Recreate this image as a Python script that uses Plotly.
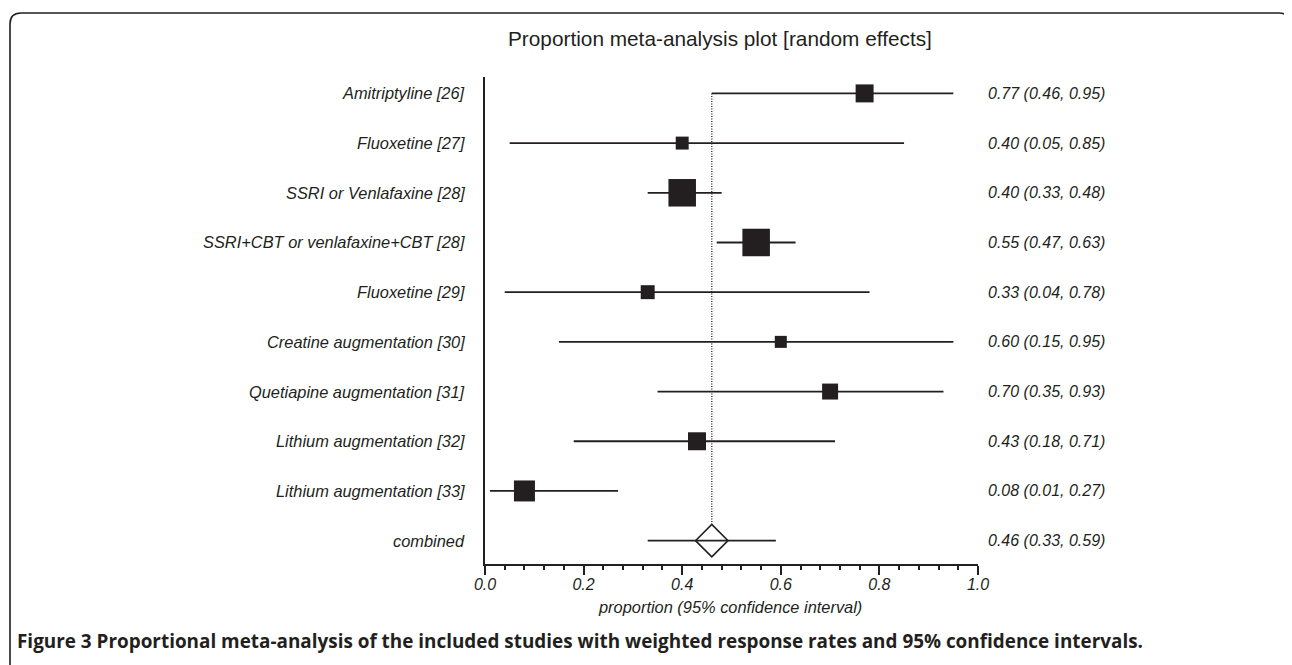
import plotly.graph_objects as go
import numpy as np

# ---- data ----
study_labels = [
    "Amitriptyline [26]",
    "Fluoxetine [27]",
    "SSRI or Venlafaxine [28]",
    "SSRI+CBT or venlafaxine+CBT [28]",
    "Fluoxetine [29]",
    "Creatine augmentation [30]",
    "Quetiapine augmentation [31]",
    "Lithium augmentation [32]",
    "Lithium augmentation [33]",
]
estimate = [0.77, 0.40, 0.40, 0.55, 0.33, 0.60, 0.70, 0.43, 0.08]
ci_low = [0.46, 0.05, 0.33, 0.47, 0.04, 0.15, 0.35, 0.18, 0.01]
ci_high = [0.95, 0.85, 0.48, 0.63, 0.78, 0.95, 0.93, 0.71, 0.27]
weight_pct = [9.6, 5.0, 22.5, 22.5, 5.8, 4.3, 7.6, 9.6, 13.1]

combined_label = "combined"
combined_est = 0.46
combined_low = 0.33
combined_high = 0.59

x_tick_vals = [0.0, 0.2, 0.4, 0.6, 0.8, 1.0]
x_tick_text = ["0.0", "0.2", "0.4", "0.6", "0.8", "1.0"]

title_text = "Proportion meta-analysis plot [random effects]"
x_title_text = "proportion (95% confidence interval)"
caption_bold = "Figure 3"
caption_rest = ("Proportional meta-analysis of the included studies with weighted "
                "response rates and 95% confidence intervals.")

# ---- layout geometry (pixels in the final page) ----
OFF = 8                      # page body margin
W, H = 1292 - OFF, 665 - OFF
L, R, T, B = 485 - OFF, 978 - OFF, 77 - OFF, 564 - OFF
INK = "#231f20"
FONT = "Liberation Sans, Arial, sans-serif"

n = len(study_labels)
y_rows = [n - i for i in range(n)]  # top row = n, combined = 0
y_comb = 0

def xp(px):
    return (px - OFF - L) / (R - L)

def yp(py):
    return (B - (py - OFF)) / (B - T)

fig = go.Figure()

# CI lines
ci_x, ci_y = [], []
for lo, hi, y in zip(ci_low, ci_high, y_rows):
    ci_x += [lo, hi, None]
    ci_y += [y, y, None]
ci_x += [combined_low, combined_high, None]
ci_y += [y_comb, y_comb, None]
fig.add_trace(go.Scatter(x=ci_x, y=ci_y, mode="lines",
                         line=dict(color=INK, width=1.8),
                         hoverinfo="skip", showlegend=False))

# dotted line at combined estimate
diamond_half_h = 0.34
fig.add_trace(go.Scatter(x=[combined_est, combined_est],
                         y=[y_rows[0], y_comb + diamond_half_h],
                         mode="lines",
                         line=dict(color=INK, width=1.3, dash="1.2px,1.3px"),
                         hoverinfo="skip", showlegend=False))

# weighted squares
sizes = [5.8 * np.sqrt(w) for w in weight_pct]
fig.add_trace(go.Scatter(x=estimate, y=y_rows, mode="markers",
                         marker=dict(symbol="square", size=sizes, color=INK,
                                     opacity=1, line=dict(width=0)),
                         showlegend=False))

# combined diamond
fig.add_trace(go.Scatter(x=[combined_est], y=[y_comb], mode="markers",
                         marker=dict(symbol="diamond-open", size=25, color=INK,
                                     opacity=1, line=dict(width=1.6, color=INK)),
                         showlegend=False))

annotations = []
all_labels = study_labels + [combined_label]
all_y = y_rows + [y_comb]
all_est = estimate + [combined_est]
all_lo = ci_low + [combined_low]
all_hi = ci_high + [combined_high]
for lab, y, e, lo, hi in zip(all_labels, all_y, all_est, all_lo, all_hi):
    annotations.append(dict(x=0, xref="paper", y=y, yref="y", text=lab,
                            xanchor="right", yanchor="middle", xshift=-18,
                            showarrow=False,
                            font=dict(family=FONT, size=16.4, color=INK, style="italic")))
    annotations.append(dict(x=1, xref="paper", y=y, yref="y",
                            text=f"{e:.2f} ({lo:.2f}, {hi:.2f})",
                            xanchor="left", yanchor="middle", xshift=8,
                            showarrow=False,
                            font=dict(family=FONT, size=16, color=INK, style="italic")))

annotations.append(dict(x=xp(720), xref="paper", y=yp(38), yref="paper",
                        text=title_text, xanchor="center", yanchor="middle",
                        showarrow=False, font=dict(family=FONT, size=20.8, color=INK)))
annotations.append(dict(x=xp(730), xref="paper", y=yp(607), yref="paper",
                        text=x_title_text, xanchor="center", yanchor="middle",
                        showarrow=False,
                        font=dict(family=FONT, size=16.4, color=INK, style="italic")))
annotations.append(dict(x=xp(15), xref="paper", y=yp(641), yref="paper",
                        text=f"<b>{caption_bold} {caption_rest}</b>",
                        xanchor="left", yanchor="middle", showarrow=False,
                        font=dict(family="Open Sans, sans-serif", size=18.9, color=INK)))

# rounded border
x0, x1, y0, y1, r = 10, 1290, 13, 720, 11
path = (f"M {xp(x0)},{yp(y1)} L {xp(x0)},{yp(y0 + r)} "
        f"Q {xp(x0)},{yp(y0)} {xp(x0 + r)},{yp(y0)} "
        f"L {xp(x1 - r)},{yp(y0)} Q {xp(x1)},{yp(y0)} {xp(x1)},{yp(y0 + r)} "
        f"L {xp(x1)},{yp(y1)}")
shapes = [dict(type="path", xref="paper", yref="paper", path=path,
               line=dict(color=INK, width=1.6))]

fig.update_layout(
    width=W, height=H,
    margin=dict(l=L, r=W - R, t=T, b=H - B, pad=0),
    paper_bgcolor="white", plot_bgcolor="white",
    annotations=annotations, shapes=shapes,
    xaxis=dict(range=[0, 1], showgrid=False, zeroline=False,
               showline=True, linecolor=INK, linewidth=2,
               ticks="outside", ticklen=9, tickwidth=1.8, tickcolor=INK,
               tickvals=x_tick_vals, ticktext=x_tick_text,
               ticklabelstandoff=-4,
               tickfont=dict(family=FONT, size=16, color=INK, style="italic"),
               minor=dict(dtick=0.04, tick0=0, ticks="outside", ticklen=4,
                          tickwidth=1.5, tickcolor=INK, showgrid=False)),
    yaxis=dict(range=[-0.47, n + 0.33], showgrid=False, zeroline=False,
               showline=True, linecolor=INK, linewidth=2,
               showticklabels=False, ticks=""),
)

fig.write_html("out.html")
